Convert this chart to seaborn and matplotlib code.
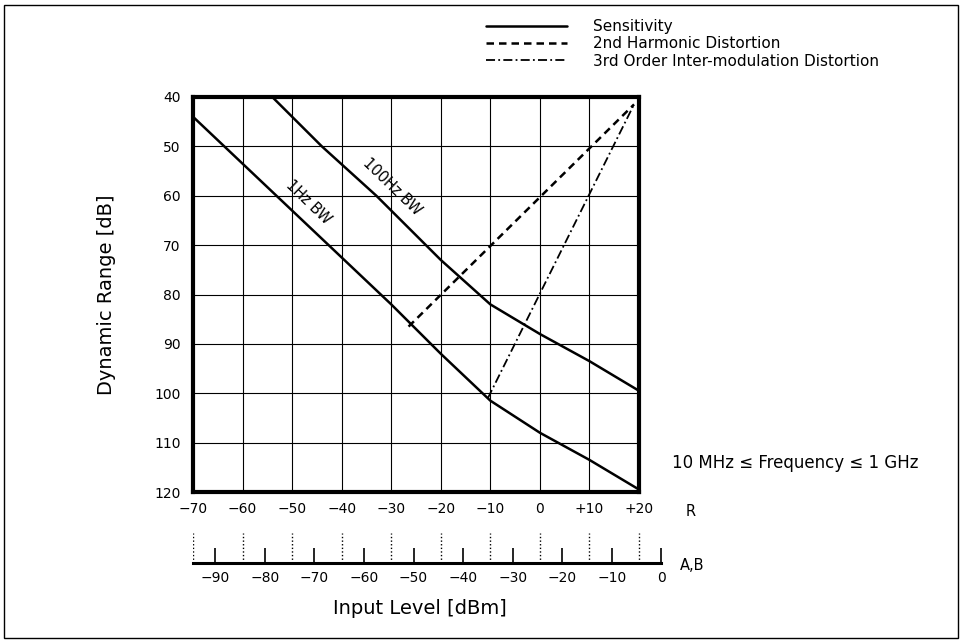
import matplotlib
matplotlib.use("Agg")
import matplotlib.pyplot as plt
from matplotlib.patches import Rectangle
import seaborn as sns

# Input level on the R scale [dBm] vs dynamic range [dB]
sens_1hz_x = [-70, -60, -50, -40, -30, -20, -10, 0, 10, 20]
sens_1hz_y = [44, 53.5, 63, 72.5, 82, 92, 101.5, 108, 113.5, 119.5]
sens_100hz_x = [-54, -44, -33, -20, -10, 0, 10, 20]
sens_100hz_y = [40, 50, 60, 73, 82, 88, 93.5, 99.5]
harm2_x = [-26.5, 19]
harm2_y = [86.5, 41.5]
imd3_x = [-10.5, 19]
imd3_y = [101, 41.5]

r_ticks = [-70, -60, -50, -40, -30, -20, -10, 0, 10, 20]
r_labels = ["\u221270", "\u221260", "\u221250", "\u221240", "\u221230",
            "\u221220", "\u221210", "0", "+10", "+20"]
ab_ticks = [-90, -80, -70, -60, -50, -40, -30, -20, -10, 0]
ab_labels = ["\u221290", "\u221280", "\u221270", "\u221260", "\u221250",
             "\u221240", "\u221230", "\u221220", "\u221210", "0"]
ab_offset = 24.5  # A,B level = R level - offset
y_ticks = [40, 50, 60, 70, 80, 90, 100, 110, 120]

sns.set_theme(style="white")
plt.rcParams['font.family'] = ['DejaVu Sans']
plt.rcParams['text.color'] = 'black'
plt.rcParams['axes.labelcolor'] = 'black'

W, H = 963, 643
fig = plt.figure(figsize=(W / 100, H / 100), dpi=100)


def box(x0, y0, x1, y1):
    # pixel box -> figure fraction rect
    return [x0 / W, 1 - y1 / H, (x1 - x0) / W, (y1 - y0) / H]


ax = fig.add_axes(box(193, 97, 639, 492))
px_per_db = (639 - 193) / 90

sns.lineplot(x=sens_1hz_x, y=sens_1hz_y, ax=ax, color='black', lw=1.8, sort=False)
sns.lineplot(x=sens_100hz_x, y=sens_100hz_y, ax=ax, color='black', lw=1.8, sort=False)
sns.lineplot(x=harm2_x, y=harm2_y, ax=ax, color='black', lw=1.8, sort=False,
             linestyle=(0, (3, 2)))
sns.lineplot(x=imd3_x, y=imd3_y, ax=ax, color='black', lw=1.3, sort=False,
             linestyle=(0, (5, 1.8, 1, 1.8)))

ax.set_xlim(-70, 20)
ax.set_ylim(120, 40)
ax.set_xticks(r_ticks, r_labels)
ax.set_yticks(y_ticks)
ax.tick_params(axis='both', length=0, labelsize=10, colors='black')
ax.tick_params(axis='x', pad=7)
ax.tick_params(axis='y', pad=9)
ax.grid(True, color='black', lw=0.8)
for sp in ax.spines.values():
    sp.set_visible(True)
    sp.set_color('black')
    sp.set_linewidth(3)
ax.set_ylabel("Dynamic Range [dB]", fontsize=14)
ax.yaxis.set_label_coords((116 - 193) / 446, 0.5)

ax.text(-46.8, 61.3, "1Hz BW", rotation=-44, ha='center', va='center', fontsize=10.5)
ax.text(-29.8, 58.2, "100Hz BW", rotation=-44, ha='center', va='center', fontsize=10.5)

# A,B scale below the R scale
ax2 = fig.add_axes(box(193, 533, 193 + (70 + ab_offset) * px_per_db, 563))
ax2.set_xlim(-70 - ab_offset, 0)
ax2.set_ylim(0, 1)
for name, sp in ax2.spines.items():
    sp.set_visible(name == 'bottom')
ax2.spines['bottom'].set_color('black')
ax2.spines['bottom'].set_linewidth(2.2)
ax2.set_facecolor('none')
ax2.set_xticks(ab_ticks, ab_labels)
ax2.set_yticks([])
ax2.tick_params(axis='x', direction='in', length=11, width=1.2, pad=6,
                labelsize=10, colors='black', bottom=True)
ax2.vlines([r - ab_offset for r in r_ticks], 0, 1, colors='black',
           linestyles=(0, (1, 1.6)), lw=1)

fig.text(686 / W, 1 - 511 / H, "R", fontsize=10.5, ha='left', va='center')
fig.text(680 / W, 1 - 566 / H, "A,B", fontsize=10.5, ha='left', va='center')
fig.text(420 / W, 1 - 608 / H, "Input Level [dBm]", fontsize=14, ha='center', va='center')
fig.text(672 / W, 1 - 463 / H, "10 MHz \u2264 Frequency \u2264 1 GHz", fontsize=12,
         ha='left', va='center')

# legend at the top, outside the grid
handles = ax.lines[1:4]
fig.legend(handles, ["Sensitivity", "2nd Harmonic Distortion",
                     "3rd Order Inter-modulation Distortion"],
           loc='upper left', bbox_to_anchor=(480 / W, 1 - 13 / H), frameon=False,
           fontsize=11, handlelength=5.3, handletextpad=1.7, labelspacing=0.15,
           borderaxespad=0)

fig.add_artist(Rectangle((4 / W, 1 - 638 / H), 954 / W, 633 / H,
                         transform=fig.transFigure, fill=False, lw=1, ec='black'))

fig.savefig("out.png", dpi=100)
